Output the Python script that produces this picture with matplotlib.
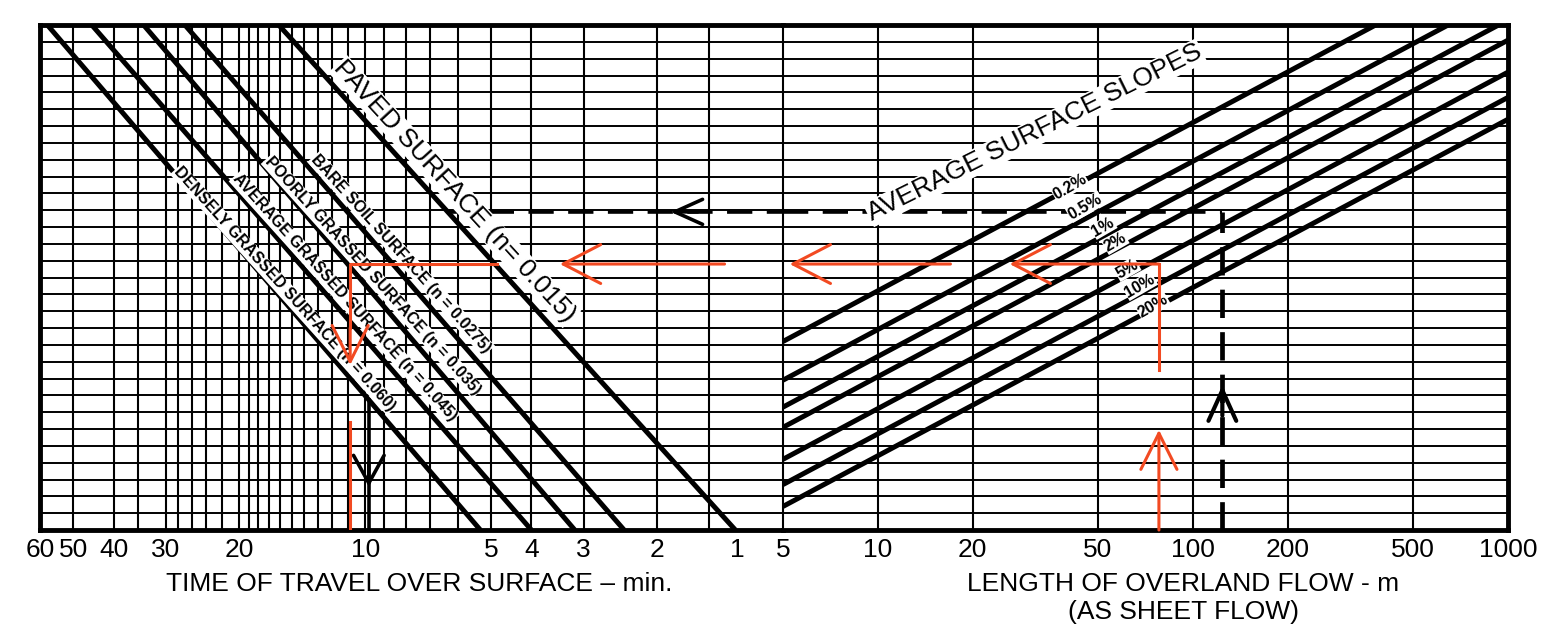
import numpy as np
import matplotlib.pyplot as plt

plt.rcParams['font.family'] = ['Liberation Sans', 'DejaVu Sans']

# ---- left panel : time of travel (log scale, reversed) ----
time_ticks = [60, 50, 40, 30, 20, 10, 5, 4, 3, 2, 1]
time_tick_labels = ['60', '50', '40', '30', '20', '10', '5', '4', '3', '2', '']
time_grid = [50, 40, 35, 30, 28, 26, 24, 22, 20, 19, 18, 17, 16, 15, 14, 13,
             12, 11, 10, 9, 8, 7, 6, 5, 4, 3, 2, 1.5]

# ---- right panel : length of overland flow (log scale) ----
length_ticks = [5, 10, 20, 50, 100, 200, 500, 1000]
length_grid = [10, 20, 50, 100, 200, 500]

n_rows = 30  # horizontal grid rows

# surface lines (time at bottom edge / at top edge)
surface_names = ['DENSELY GRASSED SURFACE (n = 0.060)',
                 'AVERAGE GRASSED SURFACE (n = 0.045)',
                 'POORLY GRASSED SURFACE (n = 0.035)',
                 'BARE SOIL SURFACE (n = 0.0275)',
                 'PAVED SURFACE (n= 0.015)']
surface_t_bottom = [5.3, 4.0, 3.15, 2.4, 1.3]
surface_t_top = [57.6, 45.1, 33.9, 27.0, 16.1]
surface_label_t = [15.6, 11.2, 9.6, 8.2, 6.1]
surface_label_y = [14.3, 13.8, 15.1, 16.4, 20.1]

# slope lines (row value at L = 5 m and at L = 1000 m)
slope_names = ['0.2%', '0.5%', '1%', '2%', '5%', '10%', '20%']
slope_y_start = [11.2, 8.9, 7.3, 6.1, 4.2, 2.7, 1.4]
slope_y_end = [34.2, 31.9, 30.3, 29.1, 27.2, 25.7, 24.4]
slope_label_L = [40.7, 45.5, 51.9, 56.7, 61.8, 67.9, 74.8]
slope_label_y = [20.4, 19.2, 18.0, 17.1, 15.5, 14.5, 13.3]

# worked examples
red_L, red_t, red_y = 78, 10.86, 15.8
blk_L, blk_t, blk_y = 124, 9.8, 18.9

RED = '#f24a22'
W, H = 1558, 629

fig = plt.figure(figsize=(W / 100, H / 100), dpi=100)
x0, x1, x2 = 40, 783, 1508
ytop, ybot = 25, 530
ax1 = fig.add_axes([x0 / W, 1 - ybot / H, (x1 - x0) / W, (ybot - ytop) / H])
ax2 = fig.add_axes([x1 / W, 1 - ybot / H, (x2 - x1) / W, (ybot - ytop) / H])

ax1.set_xscale('log')
ax1.set_xlim(60, 1)
ax2.set_xscale('log')
ax2.set_xlim(5, 1000)
for ax in (ax1, ax2):
    ax.set_ylim(0, n_rows)
    ax.set_yticks([])
    ax.xaxis.set_minor_locator(plt.NullLocator())
    ax.tick_params(axis='x', length=0, pad=6, labelsize=19)
    for r in range(1, n_rows):
        ax.axhline(r, color='black', lw=1.4, zorder=1)
    for s in ('left', 'right', 'top', 'bottom'):
        ax.spines[s].set_linewidth(3.5)

ax1.spines['right'].set_visible(False)
ax2.spines['left'].set_linewidth(1.5)

for t in time_grid:
    ax1.axvline(t, color='black', lw=1.5, zorder=1)
for L in length_grid:
    ax2.axvline(L, color='black', lw=1.5, zorder=1)

ax1.set_xticks(time_ticks)
ax1.set_xticklabels(time_tick_labels)
ax1.get_xticklabels()[0].set_x(0)
ax1.annotate('1', xy=(1, 0), xycoords=('data', 'axes fraction'), xytext=(-33, -6),
             textcoords='offset points', ha='center', va='top', fontsize=19)
ax2.set_xticks(length_ticks)
ax2.set_xticklabels([str(v) for v in length_ticks])

ax1.set_xlabel('TIME OF TRAVEL OVER SURFACE \u2013 min.', fontsize=19)
ax1.xaxis.set_label_coords(0.51, -0.083)
ax1.xaxis.label.set_va('top')
ax2.set_xlabel('LENGTH OF OVERLAND FLOW - m\n(AS SHEET FLOW)', fontsize=19,
               linespacing=1.2)
ax2.xaxis.set_label_coords(0.552, -0.083)
ax2.xaxis.label.set_va('top')

# surface roughness lines
for i, name in enumerate(surface_names):
    ax1.plot([surface_t_bottom[i], surface_t_top[i]], [0, n_rows], color='black',
             lw=3.6, solid_capstyle='butt', zorder=2)
    big = name.startswith('PAVED')
    ax1.text(surface_label_t[i], surface_label_y[i], name,
             fontsize=19 if big else 11.5, fontweight='normal' if big else 'bold',
             rotation=-47.5 if big else -48, rotation_mode='anchor',
             ha='center', va='center', zorder=5,
             bbox=dict(facecolor='white', edgecolor='none', pad=0.6))

# slope lines
for i, name in enumerate(slope_names):
    ax2.plot([5, 1000], [slope_y_start[i], slope_y_end[i]], color='black',
             lw=3.6, solid_capstyle='butt', zorder=2)
    ax2.text(slope_label_L[i], slope_label_y[i], name, fontsize=11.5,
             fontweight='bold', rotation=30, rotation_mode='anchor',
             ha='center', va='center', zorder=5,
             bbox=dict(facecolor='white', edgecolor='none', pad=0.3))

ax2.text(31.5, 23.6, 'AVERAGE SURFACE SLOPES', fontsize=19, rotation=26.4,
         rotation_mode='anchor', ha='center', va='center', zorder=5,
         bbox=dict(facecolor='white', edgecolor='none', pad=0.8))


def arrow(ax, tail, tip, color, lw, hl, hw, z):
    ax.annotate('', xy=tip, xytext=tail,
                arrowprops=dict(arrowstyle=f'->,head_length={hl},head_width={hw}',
                                color=color, lw=lw, shrinkA=0, shrinkB=0,
                                mutation_scale=10),
                annotation_clip=False, zorder=z)


# black example (dashed)
ax2.plot([blk_L, blk_L], [0, blk_y], color='black', lw=3.4, dashes=(6, 3), zorder=3)
ax2.plot([5, blk_L], [blk_y, blk_y], color='black', lw=2.6, dashes=(7, 4), zorder=3)
ax1.plot([6.3, 1], [blk_y, blk_y], color='black', lw=2.6, dashes=(7, 4), zorder=3)
arrow(ax2, (blk_L, 6.8), (blk_L, 8.6), 'black', 3, 2.2, 1.0, 4)
arrow(ax1, (1.6, blk_y), (1.86, blk_y), 'black', 2.6, 2.0, 0.9, 4)
ax1.plot([blk_t, blk_t], [0, 7.7], color='black', lw=2.6, zorder=3)
arrow(ax1, (blk_t, 4.0), (blk_t, 2.56), 'black', 2.6, 2.0, 1.1, 4)

# red example
arrow(ax2, (red_L, 0), (red_L, 5.95), RED, 2.2, 2.6, 1.3, 6)
ax2.plot([red_L, red_L], [9.5, red_y], color=RED, lw=2.2, zorder=6)
arrow(ax2, (red_L, red_y), (26.2, red_y), RED, 2.2, 2.7, 1.4, 6)
arrow(ax2, (17, red_y), (5.25, red_y), RED, 2.2, 2.7, 1.4, 6)
arrow(ax1, (1.38, red_y), (3.42, red_y), RED, 2.2, 2.7, 1.4, 6)
ax1.plot([4.84, red_t, red_t], [red_y, red_y, 12], color=RED, lw=2.2, zorder=6)
arrow(ax1, (red_t, 12), (red_t, 9.8), RED, 2.2, 2.6, 1.3, 6)
ax1.plot([red_t, red_t], [6.4, 0], color=RED, lw=2.2, zorder=6)

fig.savefig('out.png', dpi=100, facecolor='white')
